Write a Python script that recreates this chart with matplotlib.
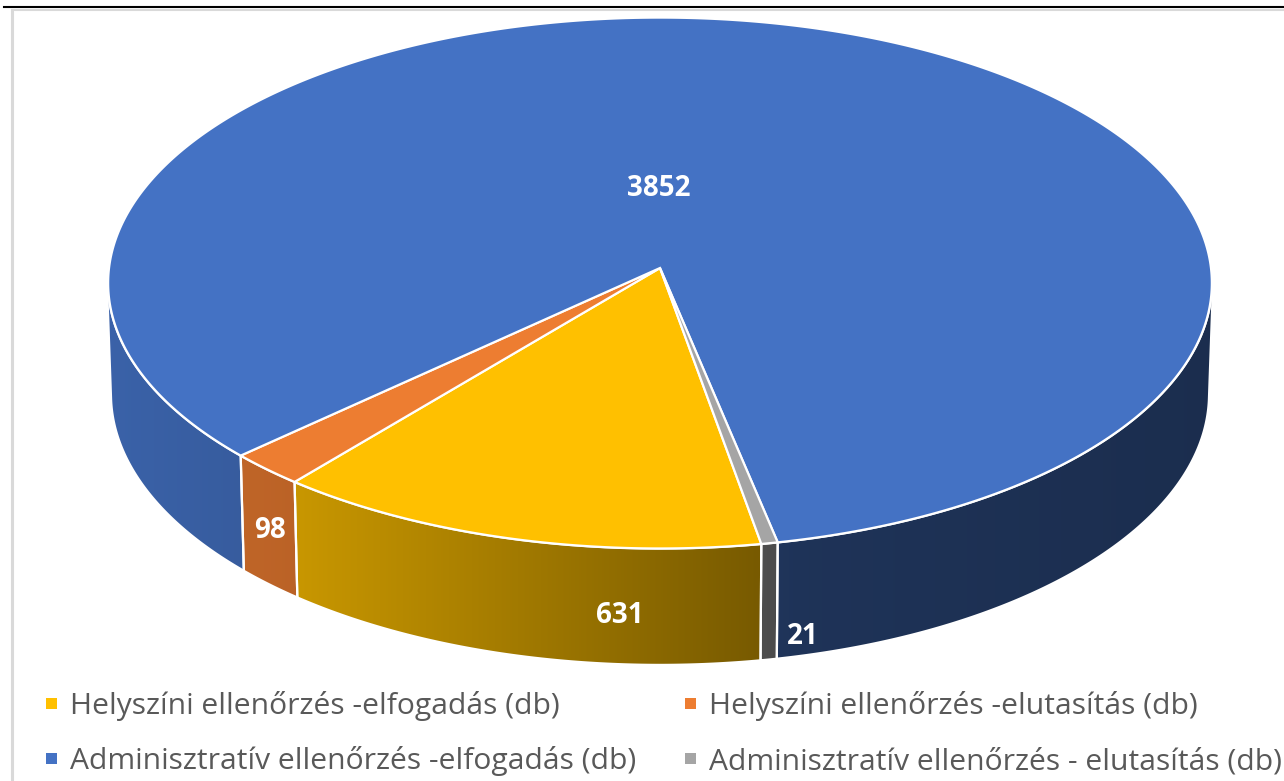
import numpy as np
import matplotlib.pyplot as plt
from matplotlib.patches import Polygon, Rectangle
from matplotlib.colors import to_rgb

# data
categories = [
    "Helyszíni ellenőrzés -elfogadás (db)",
    "Helyszíni ellenőrzés -elutasítás (db)",
    "Adminisztratív ellenőrzés -elfogadás (db)",
    "Adminisztratív ellenőrzés - elutasítás (db)",
]
values = [631, 98, 3852, 21]
colors = ["#FFC000", "#ED7D31", "#4472C4", "#A5A5A5"]

# label anchor points (pixels) in Excel's layout
label_pos = [(620, 623), (270, 538), (659, 196), (803, 644)]

# 3D view settings
START = 170.0          # angle of first slice, clockwise from 12 o'clock
CX, CY = 660, 268
TILT = np.radians(28.7)
DIST = 15.5
FOCAL = 8540
DEPTH = 0.231


def project(theta, y):
    t = np.radians(theta)
    X, Z = np.sin(t), np.cos(t)
    yc = y * np.cos(TILT) + Z * np.sin(TILT)
    zc = DIST + Z * np.cos(TILT) - y * np.sin(TILT)
    return CX + FOCAL * X / zc, CY - FOCAL * yc / zc


def shade(x):
    return np.interp(x, [107, 290, 760, 800, 1213], [0.86, 0.79, 0.47, 0.45, 0.40])


fig = plt.figure(figsize=(12.84, 7.81), dpi=100)
ax = fig.add_axes([0, 0, 1, 1])
ax.axis("off")

total = sum(values)
spans = [v / total * 360 for v in values]
starts = START + np.concatenate([[0], np.cumsum(spans)[:-1]])

# visible part of the outer wall
lim = np.degrees(np.arccos(-1 / (DIST * np.cos(TILT))))
vis = [(lim, 360 - lim), (lim + 360, 720 - lim)]

for s, sp, col in zip(starts, spans, colors):
    for lo, hi in vis:
        a, b = max(s, lo), min(s + sp, hi)
        if b <= a:
            continue
        th = np.linspace(a, b, 200)
        xt, yt = project(th, 0)
        xb, yb = project(th[::-1], -DEPTH)
        poly = Polygon(np.column_stack([np.r_[xt, xb], np.r_[yt, yb]]),
                       closed=True, fc="none", ec="none")
        ax.add_patch(poly)
        x0, x1 = min(xt.min(), xb.min()), max(xt.max(), xb.max())
        y0, y1 = min(yt.min(), yb.min()), max(yt.max(), yb.max())
        gx = np.linspace(x0, x1, 300)
        base = np.array(to_rgb(col))
        img = np.clip(shade(gx)[:, None] * base[None, :], 0, 1)[None, :, :]
        img = np.repeat(img, 2, axis=0)
        im = ax.imshow(img, extent=(x0, x1, y1, y0), aspect="auto",
                       interpolation="bilinear", zorder=1)
        im.set_clip_path(poly)
        # white seams at slice boundaries on the wall
        for e in (a, b):
            if lo < e < hi:
                ex, ey = project(np.array([e, e]), np.array([0, -DEPTH]))
                ax.plot(ex, ey, color="white", lw=1.6, zorder=2)

# white rim along the front top edge
th = np.linspace(lim, 360 - lim, 400)
rx, ry = project(th, 0)
ax.plot(rx, ry, color="white", lw=1.8, zorder=2)

# top surface
for s, sp, col in zip(starts, spans, colors):
    th = np.linspace(s, s + sp, max(int(sp * 3), 10))
    xt, yt = project(th, 0)
    pts = np.column_stack([np.r_[CX, xt], np.r_[CY, yt]])
    ax.add_patch(Polygon(pts, closed=True, fc=col, ec="white", lw=1.6,
                         joinstyle="miter", zorder=3))

# data labels
for (lx, ly), v in zip(label_pos, values):
    ax.text(lx, ly, str(v), color="white", fontsize=20, fontweight="bold",
            family="Open Sans", ha="center", va="baseline", zorder=5)

# legend
leg_x = [46, 685]
leg_y = [703, 758]
for i, (name, col) in enumerate(zip(categories, colors)):
    r, c = divmod(i, 2)
    ax.add_patch(Rectangle((leg_x[c], leg_y[r] - 5.5), 11, 11, fc=col, ec="none"))
    ax.text(leg_x[c] + 24, leg_y[r] + 11, name, color="#595959", fontsize=21.6,
            family="Open Sans", ha="left", va="baseline")

# frame lines from the screenshot
ax.plot([4, 1284], [7, 7], color="black", lw=1.5)
ax.plot([12, 1284], [10, 10], color="#d9d9d9", lw=1.5)
ax.plot([11.5, 11.5], [10, 781], color="#d9d9d9", lw=2.2)

ax.set_xlim(0, 1284)
ax.set_ylim(781, 0)
fig.savefig("out.png", dpi=100)
